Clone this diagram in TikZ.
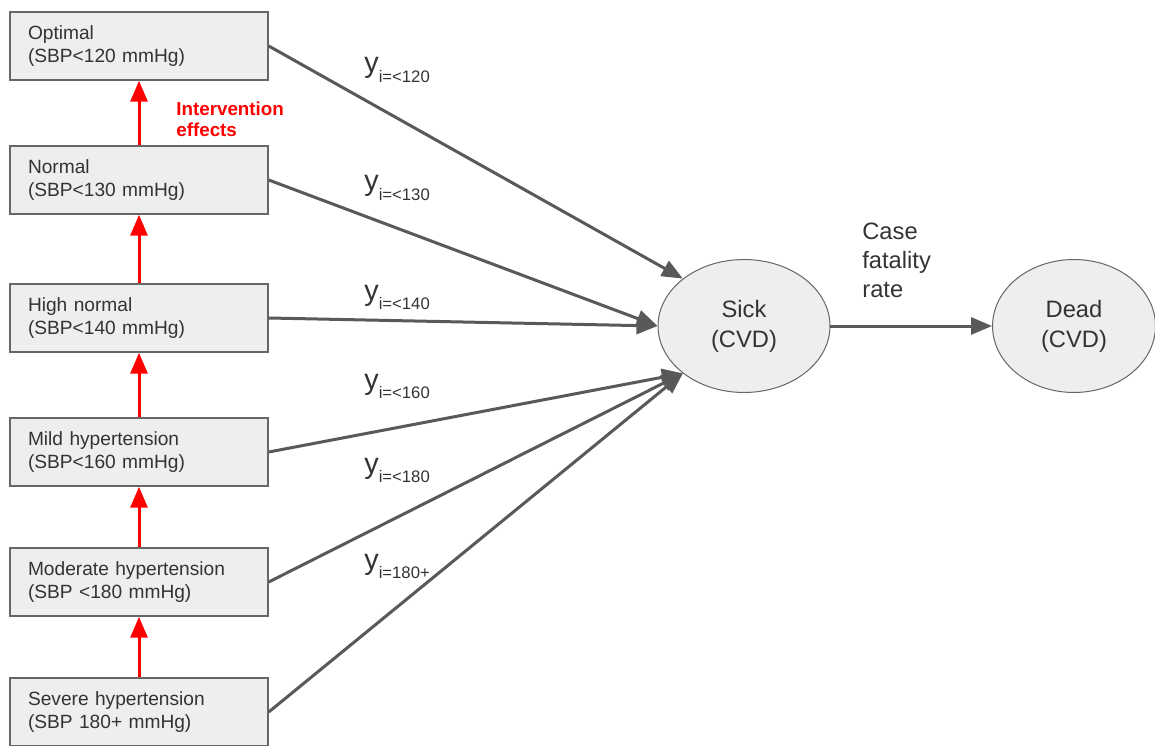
\documentclass[tikz,border=0pt]{standalone}
\usepackage{fontspec}
\setmainfont{Liberation Sans}
\usetikzlibrary{arrows.meta,shapes.geometric}

\definecolor{boxfill}{HTML}{EEEEEE}
\definecolor{boxline}{HTML}{666666}
\definecolor{flowgrey}{HTML}{595959}
\definecolor{txtgrey}{HTML}{333333}

\tikzset{
  bpbox/.style={rectangle, draw=boxline, line width=0.03cm, fill=boxfill,
    text width=4.44cm, inner xsep=0.36cm, minimum height=1.36cm, align=left,
    text=txtgrey, font=\fontsize{10.9}{13}\selectfont},
  state/.style={ellipse, draw=boxline, line width=0.02cm, fill=boxfill,
    inner sep=0pt, minimum width=3.44cm, minimum height=2.66cm, align=center,
    text=txtgrey, font=\fontsize{13.5}{17}\selectfont},
  flow/.style={draw=flowgrey, line width=0.06cm,
    -{Triangle[length=0.42cm,width=0.34cm]}},
  effarrow/.style={draw=red, line width=0.06cm,
    -{Triangle[length=0.42cm,width=0.34cm]}},
  ylab/.style={anchor=base west, inner sep=0pt, text=txtgrey},
}
\newcommand{\ysub}[1]{{\fontsize{16.4}{18}\selectfont y}\raisebox{-5.5pt}{\fontsize{9.5}{10}\selectfont #1}}

\begin{document}
\begin{tikzpicture}[x=0.02cm, y=-0.02cm]
    \useasboundingbox (0,0) rectangle (1155,746);

    \node[bpbox] (opt)  at (139,46)  {Optimal\\(SBP<120 mmHg)};
    \node[bpbox] (norm) at (139,180) {Normal\\(SBP<130 mmHg)};
    \node[bpbox] (hn)   at (139,318) {High normal\\(SBP<140 mmHg)};
    \node[bpbox] (mild) at (139,452) {Mild hypertension\\(SBP<160 mmHg)};
    \node[bpbox] (mod)  at (139,582) {Moderate hypertension\\(SBP <180 mmHg)};
    \node[bpbox] (sev)  at (139,712) {Severe hypertension\\(SBP 180+ mmHg)};

    \node[state] (sick) at (744,326) {Sick\\(CVD)};
    \node[state, minimum width=3.26cm] (dead) at (1074,326) {Dead\\(CVD)};

    \draw[effarrow] (norm) -- (opt);
    \draw[effarrow] (hn) -- (norm);
    \draw[effarrow] (mild) -- (hn);
    \draw[effarrow] (mod) -- (mild);
    \draw[effarrow] (sev) -- (mod);

    \node[anchor=base west, inner sep=0pt, align=left, text=red,
      font=\fontsize{10.7}{12.4}\selectfont\bfseries] (eff) at (176,137)
      {Intervention\\effects};

    \draw[flow] (opt.east) -- (sick.north west);
    \draw[flow] (norm.east) -- (sick.west);
    \draw[flow] (hn.east) -- (sick.west);
    \draw[flow] (mild.east) -- (sick.south west);
    \draw[flow] (mod.east) -- (sick.south west);
    \draw[flow] (sev.east) -- (sick.south west);
    \draw[flow] (sick) -- (dead);

    \node[ylab] (y1) at (364,73)  {\ysub{i=<120}};
    \node[ylab] (y2) at (364,191) {\ysub{i=<130}};
    \node[ylab] (y3) at (364,300) {\ysub{i=<140}};
    \node[ylab] (y4) at (364,389) {\ysub{i=<160}};
    \node[ylab] (y5) at (364,473) {\ysub{i=<180}};
    \node[ylab] (y6) at (364,569) {\ysub{i=180+}};

    \node[anchor=base west, inner sep=0pt, align=left, text=txtgrey,
      font=\fontsize{13.5}{16.5}\selectfont] (cfr) at (862,297)
      {Case\\fatality\\rate};
\end{tikzpicture}
\end{document}
